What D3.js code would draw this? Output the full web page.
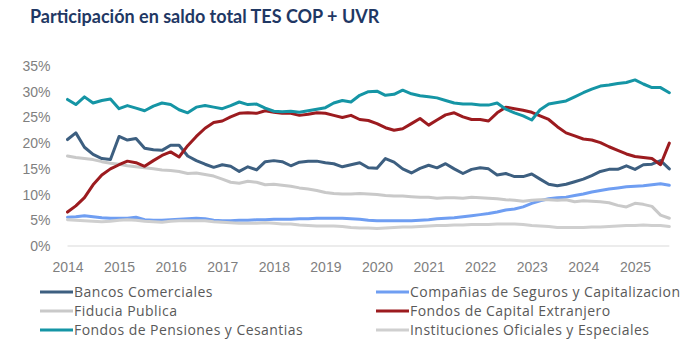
<!DOCTYPE html>
<meta charset="utf-8">
<style>
body {
  margin: 0;
  background: #fff;
  font-family: 'Open Sans', sans-serif;
}
svg {
  display: block;
}
text.title {
  font-family: 'Lato', sans-serif;
  font-size: 18px;
  font-weight: 700;
  fill: #1f3864;
}
.axis text {
  font-size: 14px;
  fill: #7f7f7f;
}
.axis path {
  stroke: none;
}
line.base {
  stroke: #d9d9d9;
  stroke-width: 1;
}
text.legend {
  font-size: 14px;
  letter-spacing: 0.45px;
  fill: #595959;
}
</style>
<body>
<svg width="700" height="342"></svg>
<script src="https://d3js.org/d3.v7.min.js"></script>
<script>

// series names in legend order
const series = [
  'Bancos Comerciales',
  'Compañias de Seguros y Capitalizacion',
  'Fiducia Publica',
  'Fondos de Capital Extranjero',
  'Fondos de Pensiones y Cesantias',
  'Instituciones Oficiales y Especiales'
];

const colors = ['#3d5f80', '#6f9ef2', '#c9c9c9', '#9c1b1f', '#1595a5', '#cfcfcf'];

// readings every two months, Jan 2014 .. Sep 2025 (%)
const bancos = [20.7, 22.0, 19.2, 17.8, 17.0, 16.8, 21.3, 20.6, 20.9, 19.0,
  18.7, 18.6, 19.6, 19.6, 17.5, 16.6, 15.9, 15.3, 15.8, 15.5,
  14.5, 15.4, 14.8, 16.4, 16.6, 16.4, 15.6, 16.3, 16.5, 16.5,
  16.2, 16.0, 15.4, 15.8, 16.2, 15.2, 15.1, 17.0, 16.3, 15.0,
  14.2, 15.1, 15.7, 15.2, 16.0, 15.0, 14.1, 14.9, 15.2, 15.0,
  13.8, 14.1, 13.5, 13.5, 14.0, 13.0, 12.0, 11.7, 12.0, 12.5,
  13.0, 13.7, 14.5, 14.9, 14.9, 15.6, 14.9, 15.8, 15.9, 16.6,
  15.0];

const seguros = [5.6, 5.7, 5.9, 5.7, 5.5, 5.4, 5.4, 5.4, 5.6, 5.1,
  5.0, 5.0, 5.1, 5.2, 5.3, 5.4, 5.3, 5.0, 4.9, 4.9,
  5.0, 5.0, 5.1, 5.1, 5.2, 5.2, 5.2, 5.3, 5.3, 5.4,
  5.4, 5.4, 5.4, 5.3, 5.2, 5.0, 4.9, 4.9, 4.9, 4.9,
  4.9, 5.0, 5.1, 5.3, 5.4, 5.5, 5.7, 5.9, 6.1, 6.3,
  6.6, 7.0, 7.2, 7.6, 8.3, 8.8, 9.2, 9.4, 9.5, 9.8,
  10.1, 10.5, 10.8, 11.1, 11.3, 11.5, 11.6, 11.7, 11.9, 12.1,
  11.8];

const fiducia = [17.5, 17.2, 17.0, 16.8, 16.4, 16.1, 15.9, 15.6, 15.4, 15.2,
  15.0, 14.8, 14.7, 14.5, 14.1, 14.2, 13.9, 13.6, 13.0, 12.4,
  12.2, 12.6, 12.4, 11.9, 12.0, 11.8, 11.6, 11.3, 11.1, 10.8,
  10.4, 10.2, 10.1, 10.1, 10.2, 10.1, 10.0, 9.8, 9.7, 9.7,
  9.6, 9.5, 9.5, 9.3, 9.4, 9.4, 9.3, 9.5, 9.4, 9.3,
  9.2, 9.0, 8.9, 8.7, 8.9, 9.0, 9.0, 8.9, 9.0, 8.6,
  8.8, 8.7, 8.6, 8.4, 7.9, 7.6, 8.3, 8.1, 7.7, 6.0,
  5.4];

const capital = [6.6, 7.8, 9.4, 11.9, 13.8, 15.0, 15.8, 16.5, 16.2, 15.5,
  16.6, 17.6, 18.3, 17.3, 19.5, 21.3, 22.9, 24.0, 24.3, 25.1,
  25.8, 25.9, 25.8, 26.3, 26.0, 25.8, 25.8, 25.4, 25.6, 25.9,
  25.8, 25.4, 25.0, 25.4, 24.6, 24.4, 23.8, 23.0, 22.5, 22.8,
  23.8, 24.8, 23.5, 24.5, 25.5, 25.9, 25.1, 24.6, 24.6, 24.3,
  25.9, 27.0, 26.7, 26.4, 26.0, 25.3, 24.6, 23.2, 22.0, 21.4,
  20.8, 20.6, 20.1, 19.3, 18.6, 17.9, 17.4, 17.2, 17.0, 15.8,
  20.0];

const pensiones = [28.5, 27.5, 29.0, 27.8, 28.3, 28.6, 26.7, 27.3, 26.8, 26.3,
  27.2, 27.8, 27.5, 26.5, 25.9, 27.0, 27.3, 27.0, 26.7, 27.3,
  28.0, 27.5, 27.6, 26.8, 26.2, 26.1, 26.2, 26.0, 26.3, 26.6,
  26.9, 27.8, 28.3, 28.0, 29.3, 30.0, 30.1, 29.3, 29.5, 30.3,
  29.6, 29.2, 29.0, 28.8, 28.3, 27.8, 27.6, 27.6, 27.4, 27.4,
  27.8, 26.6, 25.9, 25.3, 24.5, 26.5, 27.6, 27.9, 28.2, 29.0,
  29.8, 30.5, 31.1, 31.3, 31.6, 31.8, 32.3, 31.5, 30.8, 30.8,
  29.8];

const instituciones = [5.1, 5.0, 4.9, 4.8, 4.7, 4.8, 5.0, 5.1, 5.0, 4.8,
  4.7, 4.6, 4.8, 4.9, 4.9, 4.9, 4.9, 4.7, 4.6, 4.5,
  4.4, 4.4, 4.4, 4.5, 4.4, 4.3, 4.3, 4.1, 4.0, 3.9,
  3.9, 3.9, 3.8, 3.6, 3.5, 3.5, 3.4, 3.5, 3.6, 3.7,
  3.7, 3.8, 3.9, 4.0, 4.0, 4.1, 4.1, 4.2, 4.2, 4.2,
  4.3, 4.3, 4.3, 4.2, 4.0, 3.9, 3.8, 3.6, 3.6, 3.6,
  3.6, 3.7, 3.7, 3.8, 3.9, 4.0, 4.0, 4.1, 4.0, 4.0,
  3.8];

const yTicks = [0, 5, 10, 15, 20, 25, 30, 35];
const xTickYears = [2014, 2015, 2016, 2017, 2018, 2019, 2020, 2021, 2022, 2023, 2024, 2025];

const values = [bancos, seguros, fiducia, capital, pensiones, instituciones];
const dates = d3.timeMonth.every(2).range(new Date(2014, 0, 1), new Date(2025, 9, 1));

const svg = d3.select('svg');

const x = d3.scaleTime()
  .domain([new Date(2014, 0, 1), new Date(2025, 0, 1)])
  .range([67.5, 635]);

const y = d3.scaleLinear()
  .domain([0, 35])
  .range([246, 66]);

svg.append('text')
  .attr('class', 'title')
  .attr('x', 30)
  .attr('y', 23)
  .text('Participación en saldo total TES COP + UVR');

svg.append('g')
  .attr('class', 'axis')
  .attr('transform', 'translate(67.5,0)')
  .call(d3.axisLeft(y).tickValues(yTicks).tickSize(0).tickPadding(17).tickFormat(d => d + '%'));

svg.append('line')
  .attr('class', 'base')
  .attr('x1', x(dates[0]))
  .attr('x2', x(dates[dates.length - 1]))
  .attr('y1', y(0))
  .attr('y2', y(0));

svg.append('g')
  .attr('class', 'axis')
  .attr('transform', `translate(0,${y(0)})`)
  .call(d3.axisBottom(x)
    .tickValues(xTickYears.map(yr => new Date(yr, 0, 1)))
    .tickSize(0).tickPadding(16)
    .tickFormat(d3.timeFormat('%Y')));

const line = d3.line()
  .x((d, i) => x(dates[i]))
  .y(d => y(d))
  .curve(d3.curveLinear);

svg.append('g')
  .selectAll('path')
  .data(values)
  .join('path')
  .attr('d', d => line(d))
  .attr('fill', 'none')
  .attr('stroke', (d, i) => colors[i])
  .attr('stroke-width', 3)
  .attr('stroke-linejoin', 'round')
  .attr('stroke-linecap', 'round');

// legend, two columns
const legend = svg.append('g')
  .selectAll('g')
  .data(series)
  .join('g')
  .attr('transform', (d, i) => `translate(${i % 2 ? 376 : 40},${292 + Math.floor(i / 2) * 19})`);

legend.append('line')
  .attr('x1', 0)
  .attr('x2', 33)
  .attr('stroke', (d, i) => colors[i])
  .attr('stroke-width', 3);

legend.append('text')
  .attr('class', 'legend')
  .attr('x', 34)
  .attr('dy', '0.35em')
  .text(d => d);

</script>
</body>
